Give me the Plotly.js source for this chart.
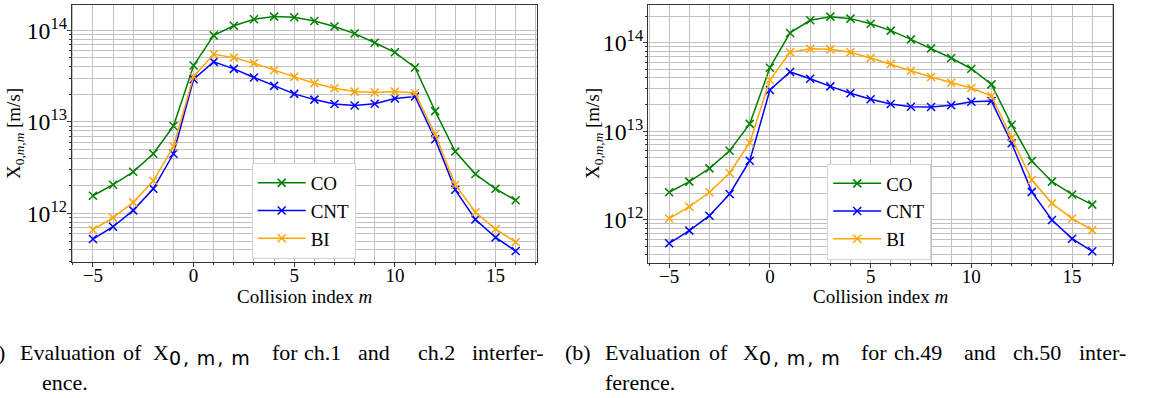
<!DOCTYPE html>
<html>
<head>
<meta charset="utf-8">
<script src="https://cdn.plot.ly/plotly-3.0.1.min.js"></script>
<style>html,body{margin:0;padding:0;background:#fff;}#chart{width:1156px;height:398px;}</style>
</head>
<body>
<div id="chart"></div>
<script>
// Collision index
const m = [-5,-4,-3,-2,-1,0,1,2,3,4,5,6,7,8,9,10,11,12,13,14,15,16];

// (a) ch.1 and ch.2 interference
const coA  = [1.56e12,2.06e12,2.85e12,4.48e12,9.0e12,4.12e13,8.8e13,1.12e14,1.32e14,1.41e14,1.39e14,1.26e14,1.10e14,9.2e13,7.3e13,5.75e13,3.92e13,1.31e13,4.74e12,2.69e12,1.86e12,1.39e12];
const cntA = [5.25e11,7.16e11,1.08e12,1.86e12,4.48e12,2.92e13,4.52e13,3.79e13,3.05e13,2.47e13,2.02e13,1.75e13,1.57e13,1.51e13,1.58e13,1.80e13,1.89e13,6.47e12,1.81e12,8.6e11,5.47e11,3.88e11];
const biA  = [6.64e11,8.98e11,1.32e12,2.27e12,5.38e12,3.13e13,5.47e13,5.03e13,4.37e13,3.66e13,3.10e13,2.64e13,2.33e13,2.14e13,2.09e13,2.14e13,2.07e13,7.33e12,2.06e12,1.03e12,6.75e11,4.87e11];

// (b) ch.49 and ch.50 interference
const coB  = [2.04e12,2.69e12,3.80e12,6.02e12,1.21e13,5.22e13,1.29e14,1.79e14,1.97e14,1.87e14,1.64e14,1.37e14,1.09e14,8.63e13,6.71e13,5.08e13,3.38e13,1.18e13,4.60e12,2.69e12,1.93e12,1.48e12];
const cntB = [5.41e11,7.52e11,1.11e12,1.95e12,4.64e12,2.92e13,4.67e13,3.92e13,3.21e13,2.68e13,2.29e13,2.03e13,1.89e13,1.88e13,1.96e13,2.15e13,2.19e13,7.30e12,2.06e12,9.91e11,6.10e11,4.39e11];
const biB  = [1.03e12,1.40e12,2.04e12,3.37e12,7.41e12,3.79e13,7.78e13,8.56e13,8.41e13,7.78e13,6.71e13,5.74e13,4.83e13,4.10e13,3.53e13,3.08e13,2.50e13,8.45e12,2.81e12,1.53e12,1.03e12,7.64e11];

const seriesNames = ['CO','CNT','BI'];
const xTitle = 'Collision index <i>m</i>';
const yTitle = 'X<sub>0,<i>m</i>,<i>m</i></sub> [m/s]';
const SUBX = 'X<sub><span style="font-family:DejaVu Sans;font-size:19px;letter-spacing:2px">0,\u2009m,\u2009m</span></sub>';
// caption words (justified lines)
const capA1 = ['(a)','Evaluation','of',SUBX,'for','ch.1','and','ch.2','interfer-'];
const capA2 = ['ence.'];
const capB1 = ['(b)','Evaluation','of',SUBX,'for','ch.49','and','ch.50','inter-'];
const capB2 = ['ference.'];

const colors = ['#008000','#0000ff','#ffa500'];
const W = 1156, H = 398;
const px = v => v / W;
const py = v => 1 - v / H;
const SERIF = 'Liberation Serif';

function mk(y, i, xa, ya, leg) {
  return {
    x: m, y: y, type: 'scatter', mode: 'lines+markers',
    name: seriesNames[i], xaxis: xa, yaxis: ya, legend: leg, showlegend: true,
    line: {color: colors[i], width: 1.5},
    marker: {symbol: 'x-thin', size: 8, line: {color: colors[i], width: 1.5}, color: colors[i]}
  };
}
const data = [
  mk(coA,0,'x','y','legend'), mk(cntA,1,'x','y','legend'), mk(biA,2,'x','y','legend'),
  mk(coB,0,'x2','y2','legend2'), mk(cntB,1,'x2','y2','legend2'), mk(biB,2,'x2','y2','legend2')
];

const gridC = '#c0c0c0';
const tickF = {family: SERIF, size: 19, color: '#000'};
function xax(dom) {
  return {domain: dom, range: [-6.05, 17.05], dtick: 5, tick0: 0, showgrid: true, gridcolor: gridC, gridwidth: 1,
    zeroline: false, showline: true, mirror: true, linecolor: '#333', linewidth: 1,
    ticks: 'outside', ticklen: 4, tickcolor: '#333', tickfont: tickF, ticklabelstandoff: -8,
    minor: {dtick: 1, tick0: 0, showgrid: true, gridcolor: gridC, gridwidth: 1, ticks: 'outside', ticklen: 2, tickcolor: '#333'}};
}
function yax(dom, rng, anchor) {
  return {domain: dom, type: 'log', range: rng, dtick: 1, exponentformat: 'power', showgrid: true, gridcolor: gridC, gridwidth: 1,
    zeroline: false, showline: true, mirror: true, linecolor: '#333', linewidth: 1, anchor: anchor,
    ticks: 'outside', ticklen: 4, tickcolor: '#333', tickfont: tickF, ticklabelstandoff: -4,
    minor: {dtick: 'D1', showgrid: true, gridcolor: gridC, gridwidth: 1, ticks: 'outside', ticklen: 2, tickcolor: '#333'}};
}
function leg(x, y) {
  return {x: x, y: y, xanchor: 'left', yanchor: 'top', bgcolor: '#ffffff', bordercolor: '#d4d4d4', borderwidth: 1,
    font: {family: SERIF, size: 19, color: '#000'}, itemwidth: 48, tracegroupgap: 0};
}

const ann = [];
function addText(text, x, y, opts) {
  ann.push(Object.assign({text: text, xref: 'paper', yref: 'paper', x: px(x), y: py(y), showarrow: false,
    font: {family: SERIF, size: 19, color: '#000'}}, opts || {}));
}
addText(xTitle, 304, 296, {xanchor: 'center', yanchor: 'middle'});
addText(xTitle, 880, 296, {xanchor: 'center', yanchor: 'middle'});
addText(yTitle, 15, 134, {xanchor: 'center', yanchor: 'middle', textangle: -90});
addText(yTitle, 594, 134, {xanchor: 'center', yanchor: 'middle', textangle: -90});

const capFont = {family: SERIF, size: 22, color: '#000'};
function placeWords(words, xs, top) {
  words.forEach((w, i) => {
    const o = {xanchor: 'left', yanchor: 'top', font: capFont, borderpad: 0};
    if (w === '(a)') { o.xanchor = 'right'; }
    addText(w, xs[i], top, o);
  });
}
placeWords(capA1, [6, 19, 122, 152, 271, 303, 357, 417, 471], 339);
placeWords(capA2, [41], 369);
placeWords(capB1, [564, 604, 708, 742, 860, 893, 963, 1012, 1078], 339);
placeWords(capB2, [604], 369);

const layout = {
  width: W, height: H, margin: {l: 0, r: 0, t: 0, b: 0}, paper_bgcolor: '#fff', plot_bgcolor: '#fff',
  font: {family: SERIF, size: 19, color: '#000'},
  xaxis: xax([px(71.8), px(536.8)]),
  yaxis: yax([py(261.7), py(5)], [11.473, 14.276], 'x'),
  xaxis2: Object.assign(xax([px(648), px(1113.4)]), {anchor: 'y2'}),
  yaxis2: yax([py(263.3), py(5)], [11.507, 14.426], 'x2'),
  legend: leg(px(251.7), py(163)),
  legend2: leg(px(827.2), py(163.5)),
  annotations: ann
};
Plotly.newPlot('chart', data, layout, {staticPlot: true, displayModeBar: false});
</script>
</body>
</html>
